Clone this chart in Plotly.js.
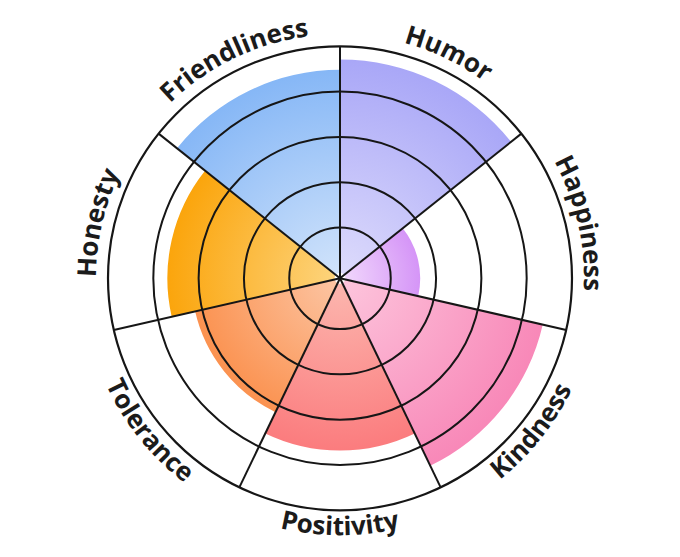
<!DOCTYPE html>
<html>
<head>
<meta charset="utf-8">
<script src="https://cdn.plot.ly/plotly-3.0.1.min.js"></script>
<style>
  html, body { margin: 0; padding: 0; background: #ffffff; }
  #chart { width: 680px; height: 557px; }
</style>
</head>
<body>
<div id="chart"></div>
<script>
// ---- data ----
const categories = ['Humor', 'Happiness', 'Kindness', 'Positivity', 'Tolerance', 'Honesty', 'Friendliness'];
const values = [4.71, 1.65, 4.47, 3.68, 3.16, 3.69, 4.48];
const innerColors = ['#dedcfc', '#f2dafc', '#fdc6dd', '#fcb8b0', '#fcc6a5', '#fdd57f', '#d2e4fb'];
const outerColors = ['#a9a7f7', '#d595f7', '#f888b8', '#fb7c7e', '#fb9250', '#fba50c', '#86b7f6'];
const gridValues = [1, 2, 3, 4];

// ---- geometry / style ----
const W = 680, H = 557;
const CX = 340, CY = 278.3, RAD = 232;
const RMIN = -0.12, RMAX = 5;
const n = categories.length;
const step = 360 / n;
const theta = categories.map((c, i) => (i + 0.5) * step);
const boundaries = categories.map((c, i) => i * step);
const LINE = '#161616';
const FONT = { family: 'Open Sans, Noto Sans, sans-serif', size: 26, color: '#1b1b1b', weight: 700 };

function isBottom(phi) { return Math.cos(phi * Math.PI / 180) < 0; }

const annotations = categories.map((c, i) => {
  const phi = theta[i];
  const bottom = isBottom(phi);
  const R = bottom ? 247 : 252;
  const rad = phi * Math.PI / 180;
  let ang = bottom ? phi - 180 : (phi > 180 ? phi - 360 : phi);
  return {
    text: c,
    xref: 'paper', yref: 'paper',
    x: (CX + R * Math.sin(rad)) / W,
    y: 1 - (CY - R * Math.cos(rad)) / H,
    xanchor: 'center', yanchor: 'middle',
    textangle: ang,
    showarrow: false,
    font: FONT
  };
});

const data = [{
  type: 'barpolar',
  r: values,
  theta: theta,
  width: step,
  text: categories,
  marker: { color: outerColors, line: { width: 0 } },
  hoverinfo: 'text+r'
}];

const layout = {
  width: W, height: H,
  margin: { l: 0, r: 0, t: 0, b: 0 },
  paper_bgcolor: '#ffffff',
  showlegend: false,
  polar: {
    domain: { x: [(CX - RAD) / W, (CX + RAD) / W], y: [1 - (CY + RAD) / H, 1 - (CY - RAD) / H] },
    bgcolor: '#ffffff',
    radialaxis: {
      range: [RMIN, RMAX],
      tickvals: gridValues,
      showticklabels: false,
      ticks: '',
      showline: false,
      gridcolor: LINE,
      gridwidth: 2
    },
    angularaxis: {
      rotation: 90,
      direction: 'clockwise',
      thetaunit: 'degrees',
      tickmode: 'array',
      tickvals: boundaries,
      showticklabels: false,
      ticks: '',
      gridcolor: LINE,
      gridwidth: 2,
      linecolor: LINE,
      linewidth: 2.2
    }
  },
  annotations: annotations
};

const gd = document.getElementById('chart');
const NS = 'http://www.w3.org/2000/svg';

function ensureDefs(svg) {
  let defs = svg.querySelector(':scope > defs');
  if (!defs) { defs = document.createElementNS(NS, 'defs'); svg.insertBefore(defs, svg.firstChild); }
  return defs;
}

function post() {
  const svg = gd.querySelector('svg.main-svg');
  const sub = gd._fullLayout.polar && gd._fullLayout.polar._subplot;
  const cx = sub ? sub.cx : CX, cy = sub ? sub.cy : CY, rad = sub ? sub.radius : RAD;
  const rect = svg.getBoundingClientRect();
  const sx = rect.left + cx, sy = rect.top + cy;

  // draw grid above the bars (as in the reference)
  try {
    const fp = svg.querySelector('.polarsublayer.frontplot');
    const ag = svg.querySelector('.polarsublayer.angular-grid');
    const rg = svg.querySelector('.polarsublayer.radial-grid');
    const first = (ag && rg) ? ((ag.compareDocumentPosition(rg) & Node.DOCUMENT_POSITION_FOLLOWING) ? ag : rg) : (ag || rg);
    if (fp && first) first.parentNode.insertBefore(fp, first);
  } catch (e) {}

  // radial gradients on the bars
  try {
    const defs = ensureDefs(svg);
    const paths = svg.querySelectorAll('.barlayer g.point path');
    paths.forEach((p, i) => {
      const m = p.getScreenCTM().inverse();
      const pt = svg.createSVGPoint(); pt.x = sx; pt.y = sy;
      const lp = pt.matrixTransform(m);
      const g = document.createElementNS(NS, 'radialGradient');
      g.setAttribute('id', 'barGrad' + i);
      g.setAttribute('gradientUnits', 'userSpaceOnUse');
      g.setAttribute('cx', lp.x); g.setAttribute('cy', lp.y);
      g.setAttribute('fx', lp.x); g.setAttribute('fy', lp.y);
      g.setAttribute('r', (values[i] - RMIN) / (RMAX - RMIN) * rad);
      [[0, innerColors[i]], [1, outerColors[i]]].forEach(([o, c]) => {
        const s = document.createElementNS(NS, 'stop');
        s.setAttribute('offset', o); s.setAttribute('stop-color', c);
        g.appendChild(s);
      });
      defs.appendChild(g);
      p.style.fill = 'url(#barGrad' + i + ')';
    });
  } catch (e) {}

  // curve the labels along the outer circle
  try {
    gd.querySelectorAll('g.annotation').forEach(a => {
      const idx = +a.getAttribute('data-index');
      const t = a.querySelector('text.annotation-text');
      if (!t) return;
      const tsvg = t.ownerSVGElement;
      const defs = ensureDefs(tsvg);
      const phi = theta[idx];
      const bottom = isBottom(phi);
      const Rb = bottom ? 257 : 244;
      const span = 70;
      const a0 = bottom ? phi + span : phi - span;
      const a1 = bottom ? phi - span : phi + span;
      const m = t.getScreenCTM().inverse();
      const toLocal = ang => {
        const r = ang * Math.PI / 180;
        const pt = tsvg.createSVGPoint();
        pt.x = sx + Rb * Math.sin(r); pt.y = sy - Rb * Math.cos(r);
        return pt.matrixTransform(m);
      };
      const P0 = toLocal(a0), P1 = toLocal(a1);
      const d = 'M' + P0.x + ',' + P0.y + ' A' + Rb + ',' + Rb + ' 0 0 ' + (bottom ? 0 : 1) + ' ' + P1.x + ',' + P1.y;
      const path = document.createElementNS(NS, 'path');
      path.setAttribute('id', 'lblArc' + idx);
      path.setAttribute('d', d);
      path.setAttribute('fill', 'none');
      defs.appendChild(path);
      const label = t.textContent;
      while (t.firstChild) t.removeChild(t.firstChild);
      t.removeAttribute('x'); t.removeAttribute('y');
      t.setAttribute('text-anchor', 'middle');
      const tp = document.createElementNS(NS, 'textPath');
      tp.setAttribute('href', '#lblArc' + idx);
      tp.setAttributeNS('http://www.w3.org/1999/xlink', 'xlink:href', '#lblArc' + idx);
      tp.setAttribute('startOffset', '50%');
      tp.textContent = label;
      t.appendChild(tp);
    });
  } catch (e) {}
}

Plotly.newPlot(gd, data, layout, { displayModeBar: false, staticPlot: true }).then(post);
</script>
</body>
</html>
